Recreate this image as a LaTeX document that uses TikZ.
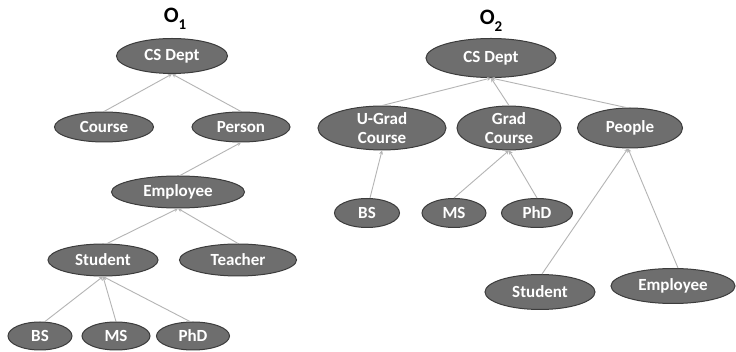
\documentclass[tikz,border=0pt]{standalone}
\usepackage{fontspec}
\setmainfont{Carlito}
\usetikzlibrary{shapes.geometric,arrows.meta}
\definecolor{nodefill}{HTML}{6E6E6E}
\definecolor{nodeedge}{HTML}{3C3C3C}
\definecolor{linkcol}{HTML}{B4B4B4}
\tikzset{
  onto/.style={ellipse, fill=nodefill, draw=nodeedge, line width=1pt, inner sep=0pt,
    text=white, font=\fontsize{17}{17}\selectfont\bfseries, align=center},
  twoline/.style={onto, font=\fontsize{17}{19}\selectfont\bfseries},
  link/.style={draw=linkcol, line width=0.9pt, -{Stealth[length=4pt,width=4pt]}},
  title/.style={font=\fontsize{22}{22}\selectfont\bfseries, inner sep=0pt}
}
\begin{document}
\begin{tikzpicture}[x=1pt,y=-1pt]
\useasboundingbox[fill=white] (0,0) rectangle (736,352);
% O1
\node[title] (t1) at (175,19) {O\raisebox{-0.3em}{\fontsize{15}{15}\selectfont 1}};
\node[onto, minimum width=111pt, minimum height=35pt] (cs1) at (172,56) {CS Dept};
\node[onto, minimum width=99pt, minimum height=30pt] (course1) at (104,127) {Course};
\node[onto, minimum width=98pt, minimum height=30pt] (person1) at (241,127) {Person};
\node[onto, minimum width=133pt, minimum height=32pt] (emp1) at (178,192) {Employee};
\node[onto, minimum width=110pt, minimum height=32pt] (stu1) at (103,260) {Student};
\node[onto, minimum width=117pt, minimum height=32pt] (tea1) at (238,260) {Teacher};
\node[onto, minimum width=64pt, minimum height=28pt] (bs1) at (40,336) {BS};
\node[onto, minimum width=68pt, minimum height=28pt] (ms1) at (116,336) {MS};
\node[onto, minimum width=73pt, minimum height=28pt] (phd1) at (193,336) {PhD};
\draw[link] (course1.north) -- (cs1.south);
\draw[link] (person1.north) -- (cs1.south);
\draw[link] (emp1.north) ++(2,0) -- (person1.south);
\draw[link] (stu1.north) ++(4,0) -- (emp1.south);
\draw[link] (tea1.north) -- (emp1.south);
\draw[link] (bs1.north) ++(5,0) -- (stu1.south);
\draw[link] (ms1.north) -- (stu1.south);
\draw[link] (phd1.north) ++(-3,0) -- (stu1.south);
% O2
\node[title] (t2) at (491,21) {O\raisebox{-0.3em}{\fontsize{15}{15}\selectfont 2}};
\node[onto, minimum width=130pt, minimum height=39pt] (cs2) at (491,58) {CS Dept};
\node[twoline, minimum width=128pt, minimum height=40pt] (ug2) at (382,128) {U-Grad\\Course};
\node[twoline, minimum width=104pt, minimum height=41pt] (gr2) at (509,128) {Grad\\Course};
\node[onto, minimum width=105pt, minimum height=40pt] (peo2) at (630,128) {People};
\node[onto, minimum width=65pt, minimum height=29pt] (bs2) at (367,213) {BS};
\node[onto, minimum width=64pt, minimum height=29pt] (ms2) at (454,213) {MS};
\node[onto, minimum width=71pt, minimum height=29pt] (phd2) at (537,213) {PhD};
\node[onto, minimum width=110pt, minimum height=35pt] (stu2) at (540,292) {Student};
\node[onto, minimum width=124pt, minimum height=35pt] (emp2) at (673,286) {Employee};
\draw[link] (ug2.north) -- (cs2.south);
\draw[link] (gr2.north) -- (cs2.south);
\draw[link] (peo2.north) ++(-4,0) -- (cs2.south);
\draw[link] (bs2.north) ++(3,0) -- (ug2.south);
\draw[link] (ms2.north) -- (gr2.south);
\draw[link] (phd2.north) -- (gr2.south);
\draw[link] (stu2.north) ++(2,0) -- ([xshift=-2pt]peo2.south);
\draw[link] (emp2.north) ++(5,0) -- ([xshift=-2pt]peo2.south);
\end{tikzpicture}
\end{document}
